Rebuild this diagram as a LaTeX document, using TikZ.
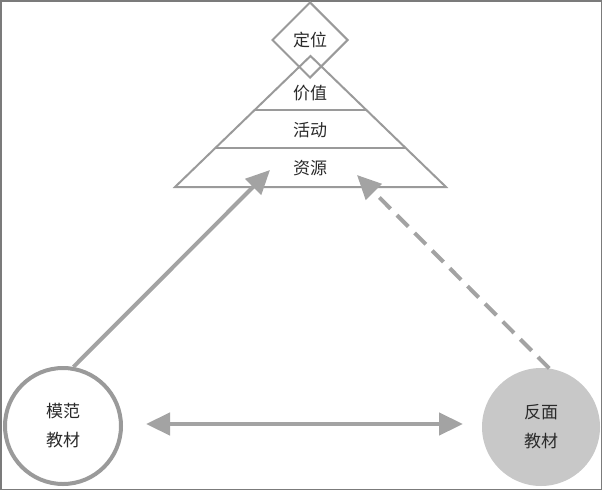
\documentclass[tikz,border=0pt]{standalone}
\usepackage{fontspec}
\newfontfamily\cjk{Noto Sans CJK SC}
\usetikzlibrary{arrows.meta,calc,shapes.geometric}
\definecolor{lg}{HTML}{9A9A9A}
\definecolor{ag}{HTML}{A3A3A3}
\definecolor{cf}{HTML}{C8C8C8}
\definecolor{tx}{HTML}{2A2A2A}
\tikzset{
  lab/.style={font=\cjk\fontsize{17}{18}\selectfont, text=tx, inner sep=0pt},
  tri/.style={draw=lg, line width=2pt},
  circ/.style={circle, minimum size=120pt, inner sep=0pt, align=center,
    font=\cjk\fontsize{17}{29}\selectfont, text=tx},
  bigarrow/.style={draw=ag, line width=4.5pt, -{Triangle[length=24pt,width=22pt]}},
}
\begin{document}
\begin{tikzpicture}[x=1pt,y=-1pt]
\useasboundingbox (0,0) rectangle (602,490);
\draw[draw=lg!80!black, line width=1.5pt] (0.75,0.75) rectangle (601.25,489.25);
% pyramid
\coordinate (apex) at (310.5,56);
\coordinate (bl) at (175,187);
\coordinate (br) at (446,187);
\node[draw=lg, line width=2pt, fill=white, diamond, minimum width=76pt, minimum height=76pt, inner sep=0pt] (dw) at (310,40) {};
\draw[tri, line join=miter] (apex) -- (bl) -- (br) -- cycle;
\draw[tri] ($(apex)!0.412!(bl)$) -- ($(apex)!0.412!(br)$);
\draw[tri] ($(apex)!0.702!(bl)$) -- ($(apex)!0.702!(br)$);
\node[lab] (t0) at (310,40) {定位};
\node[lab] (t1) at (310,93) {价值};
\node[lab] (t2) at (310,130) {活动};
\node[lab] (t3) at (310,168) {资源};
% circles
\node[circ, draw=lg, line width=4pt, fill=white, minimum size=116pt] (left) at (63,426) {模范\\教材};
\node[circ, fill=cf, minimum size=118pt] (right) at (541,427) {反面\\教材};
% arrow targets
\coordinate (ta) at (270,170);
\coordinate (tb) at (357,175);
\coordinate (da) at (146,424);
\coordinate (db) at (463,424);
\draw[bigarrow, line width=4pt] (left.80) -- (ta);
\draw[bigarrow, line width=4pt, dash pattern=on 16pt off 9pt] (right.82) -- (tb);
\draw[bigarrow, {Triangle[length=24pt,width=22pt]}-{Triangle[length=24pt,width=22pt]}] (da) -- (db);
\end{tikzpicture}
\end{document}
